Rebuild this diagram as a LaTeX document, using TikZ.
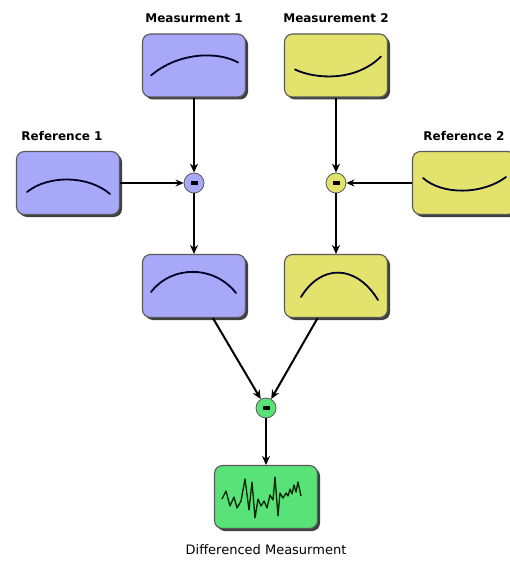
\documentclass[tikz,border=0pt]{standalone}
\usepackage{fontspec}
\setmainfont{DejaVu Sans}
\usepackage{xcolor}
\usetikzlibrary{shapes,arrows.meta,positioning,shadows,calc}

\definecolor{sigblue}{RGB}{168,168,248}
\definecolor{sigyellow}{RGB}{226,226,108}
\definecolor{siggreen}{RGB}{88,226,120}

\begin{document}
\begin{tikzpicture}[
    x=1pt, y=-1pt,
    signal/.style={rectangle, rounded corners=8pt, draw=black!65, line width=1.1pt, minimum width=103pt, minimum height=63pt,
        drop shadow={shadow xshift=2.5pt, shadow yshift=-2.5pt, fill=black!75, opacity=1}},
    diff/.style={circle, draw=black!65, line width=0.8pt, minimum size=20pt, inner sep=0pt,
        path picture={\fill[black] ([xshift=-3.5pt,yshift=-1.6pt]path picture bounding box.center) rectangle ++(7pt,3.2pt);}},
    title/.style={font=\bfseries\fontsize{12}{14}\selectfont},
    arrow/.style={-{Stealth[length=9pt,width=8pt]}, line width=2pt},
    thinarrow/.style={-{Stealth[length=8pt,width=7pt]}, line width=1.2pt},
    curve/.style={line width=1.8pt, black!85!blue, line cap=round}
]
\useasboundingbox (0,0) rectangle (510,561);

% Measurements and references
\node[signal, fill=sigblue] (meas1) at (194,65.5) {};
\node[signal, fill=sigyellow] (meas2) at (336,65.5) {};
\node[signal, fill=sigblue] (ref1) at (68,183) {};
\node[signal, fill=sigyellow] (ref2) at (464,183) {};

% First differences
\node[diff, fill=sigblue] (diff1) at (194,183) {};
\node[diff, fill=sigyellow] (diff2) at (336,183) {};
\node[signal, fill=sigblue] (mid1) at (194,286) {};
\node[signal, fill=sigyellow] (mid2) at (336,286) {};

% Second difference
\node[diff, fill=siggreen] (diff3) at (266,408) {};
\node[signal, fill=siggreen] (res) at (266,497) {};

% Labels
\node[title, above=7pt of meas1] {Measurment 1};
\node[title, above=7pt of meas2] {Measurement 2};
\node[title, above=7pt of ref1, xshift=-6pt] {Reference 1};
\node[title, above=7pt of ref2] {Reference 2};
\node[below=12pt of res, font=\fontsize{13}{15}\selectfont] {Differenced Measurment};

% Curves
\draw[curve, shift={(meas1.center)}] (-43,10) .. controls (-15,-14) and (25,-14) .. (44,-3);
\draw[curve, shift={(meas2.center)}] (-41,4) .. controls (-20,14) and (20,16) .. (45,-9);
\draw[curve, shift={(ref1.center)}] (-41,9) .. controls (-20,-8) and (20,-8) .. (42,11);
\draw[curve, shift={(ref2.center)}] (-41,-5) .. controls (-22,12) and (18,12) .. (42,-6);
\draw[curve, shift={(mid1.center)}] (-43,6) .. controls (-22,-21) and (20,-21) .. (42,7);
\draw[curve, shift={(mid2.center)}] (-35,11) .. controls (-15,-22) and (20,-22) .. (42,14);
\draw[line width=1.3pt, black!85!green, line join=round, shift={(res.center)}]
    (-44,2) -- (-40,-6) -- (-36,9) -- (-32,0) -- (-29,11) -- (-25,4) -- (-21,-18) -- (-17,13)
    -- (-14,-15) -- (-11,21) -- (-8,2) -- (-5,9) -- (-2,4) -- (1,11) -- (4,-2) -- (7,3)
    -- (9,-20) -- (12,19) -- (14,-4) -- (17,1) -- (20,-4) -- (22,-1) -- (24,-8) -- (26,-3)
    -- (28,-12) -- (30,-5) -- (32,-15) -- (35,-1);

% Arrows
\draw[arrow] (meas1) -- (diff1);
\draw[arrow] (meas2) -- (diff2);
\draw[thinarrow] (ref1) -- (diff1);
\draw[thinarrow] (ref2) -- (diff2);
\draw[arrow] (diff1) -- (mid1);
\draw[arrow] (diff2) -- (mid2);
\draw[arrow] (mid1) -- (diff3);
\draw[arrow] (mid2) -- (diff3);
\draw[arrow] (diff3) -- (res);

\end{tikzpicture}
\end{document}
